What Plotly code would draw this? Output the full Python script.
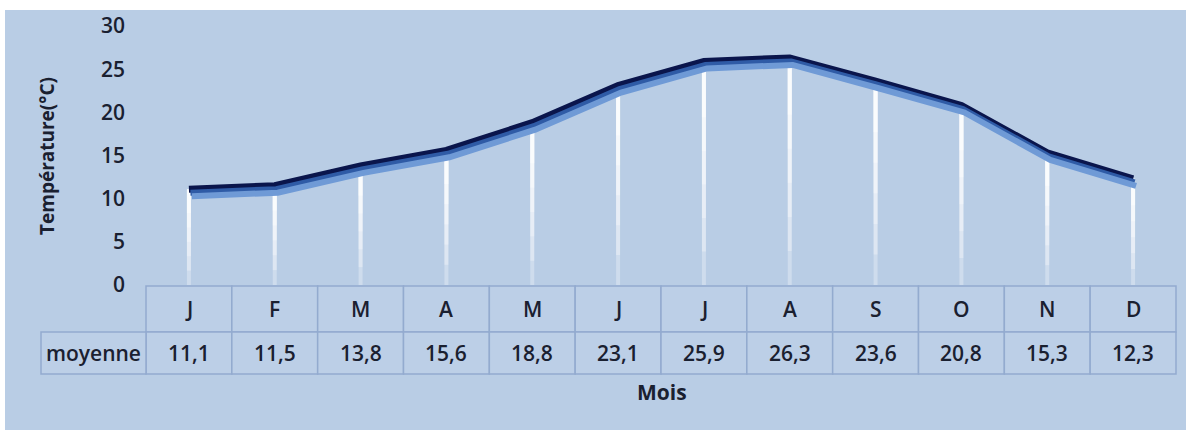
import plotly.graph_objects as go

months = ["J", "F", "M", "A", "M", "J", "J", "A", "S", "O", "N", "D"]
moyenne = [11.1, 11.5, 13.8, 15.6, 18.8, 23.1, 25.9, 26.3, 23.6, 20.8, 15.3, 12.3]
row_label = "moyenne"
y_ticks = [0, 5, 10, 15, 20, 25, 30]
y_title = "Température(°C)"
x_title = "Mois"

W, H = 1186, 430
ML, MR, MT, MB = 146, 10, 26, 145
PW, PH = W - ML - MR, H - MT - MB
BG = "#b9cde5"
FONT = "Open Sans"
TXT = "#1a2030"

def py(px):  # pixel row -> paper y
    return (H - MB - px) / PH

def pxx(px):  # pixel column -> paper x
    return (px - ML) / PW

xs = list(range(len(months)))
n = len(months)
ppu_y = PH / (y_ticks[-1] - y_ticks[0])
ppu_x = PW / n

fig = go.Figure()

# shadows (same data, drawn on shifted overlay axes)
def shadow_axes(k, dx_px, dy_px):
    dx = dx_px / ppu_x
    dy = dy_px / ppu_y
    fig.update_layout(**{
        f"xaxis{k}": dict(overlaying="x", range=[-0.5 - dx, n - 0.5 - dx], visible=False),
        f"yaxis{k}": dict(overlaying="y", range=[y_ticks[0] + dy, y_ticks[-1] + dy], visible=False),
    })

shadow_axes(3, 3, 7)
shadow_axes(2, 1.5, 3.5)
fig.add_trace(go.Scatter(x=xs, y=moyenne, mode="lines", xaxis="x3", yaxis="y3",
                         line=dict(color="#6f9ad6", width=6), hoverinfo="skip", showlegend=False))
fig.add_trace(go.Scatter(x=xs, y=moyenne, mode="lines", xaxis="x2", yaxis="y2",
                         line=dict(color="#2f5ba6", width=6), hoverinfo="skip", showlegend=False))

# drop lines (stepped fade)
for frac, alpha in [(1.0, 0.3), (0.85, 0.3), (0.7, 0.3), (0.55, 0.35), (0.4, 0.4), (0.25, 0.5)]:
    fig.add_trace(go.Scatter(
        x=xs, y=moyenne, mode="markers", marker=dict(size=1, opacity=0),
        error_y=dict(type="data", symmetric=False, array=[0] * n,
                     arrayminus=[v * frac for v in moyenne],
                     color=f"rgba(255,255,255,{alpha})", thickness=4, width=0),
        hoverinfo="skip", showlegend=False))

# main line
fig.add_trace(go.Scatter(x=xs, y=moyenne, mode="lines",
                         line=dict(color="#0a154c", width=7), showlegend=False))

shapes = []
# top / left white strips
shapes.append(dict(type="rect", xref="paper", yref="paper", x0=pxx(0), x1=pxx(W), y0=py(10), y1=py(0),
                   fillcolor="white", line=dict(width=0), layer="below"))
shapes.append(dict(type="rect", xref="paper", yref="paper", x0=pxx(0), x1=pxx(5), y0=py(H), y1=py(0),
                   fillcolor="white", line=dict(width=0), layer="below"))

BORDER = "#93abcf"
CELL = "#bccfe7"
r0, r1, r2 = 286, 332, 374
for i in range(n):
    x0, x1 = i / n, (i + 1) / n
    for (ya, yb) in [(r1, r0), (r2, r1)]:
        shapes.append(dict(type="rect", xref="paper", yref="paper", x0=x0, x1=x1, y0=py(ya), y1=py(yb),
                           fillcolor=CELL, line=dict(color=BORDER, width=1.5), layer="below"))
shapes.append(dict(type="rect", xref="paper", yref="paper", x0=pxx(41), x1=0, y0=py(r2), y1=py(r1),
                   fillcolor=CELL, line=dict(color=BORDER, width=1.5), layer="below"))

TF = dict(family=FONT, size=21, color=TXT, weight=600)
ann = []
for i, (m, v) in enumerate(zip(months, moyenne)):
    ann.append(dict(x=i, y=py((r0 + r1) / 2), xref="x", yref="paper", text=m, showarrow=False,
                    font=TF, xanchor="center", yanchor="middle"))
    ann.append(dict(x=i, y=py((r1 + r2) / 2), xref="x", yref="paper", text=f"{v:.1f}".replace(".", ","),
                    showarrow=False, font=TF, xanchor="center", yanchor="middle"))
ann.append(dict(x=(pxx(41) + 0) / 2, y=py((r1 + r2) / 2), xref="paper", yref="paper", text=row_label,
                showarrow=False, font=TF, xanchor="center", yanchor="middle"))
ann.append(dict(x=pxx(662), y=py(392), xref="paper", yref="paper", text=x_title, showarrow=False,
                font=dict(family=FONT, size=21, color=TXT, weight=700), xanchor="center", yanchor="middle"))
ann.append(dict(x=pxx(47), y=py(156), xref="paper", yref="paper", text=y_title, showarrow=False,
                textangle=-90, font=dict(family=FONT, size=19, color=TXT, weight=700),
                xanchor="center", yanchor="middle"))

fig.update_layout(
    width=W, height=H, autosize=False,
    margin=dict(l=ML, r=MR, t=MT, b=MB, pad=0),
    paper_bgcolor=BG, plot_bgcolor="rgba(0,0,0,0)",
    shapes=shapes, annotations=ann,
    xaxis=dict(range=[-0.5, n - 0.5], showticklabels=False, showgrid=False, zeroline=False,
               showline=False, ticks=""),
    yaxis=dict(range=[y_ticks[0], y_ticks[-1]], tickvals=y_ticks, showgrid=False, zeroline=False,
               showline=False, ticks="", ticklabelstandoff=20,
               tickfont=dict(family=FONT, size=21, color=TXT, weight=600)),
    showlegend=False,
)

fig.write_html("out.html")
